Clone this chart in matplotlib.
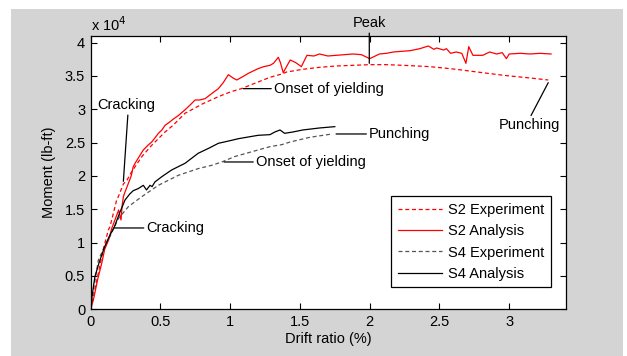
import matplotlib.pyplot as plt
from matplotlib.patches import Rectangle

plt.rcParams['font.family'] = ['Liberation Sans', 'DejaVu Sans']

# drift ratio (%) and moment (x 10^4 lb-ft)
s2_exp_x = [0, 0.03, 0.06, 0.09, 0.126, 0.138, 0.16, 0.186, 0.198, 0.234, 0.258, 0.29,
            0.318, 0.37, 0.437, 0.485, 0.533, 0.59, 0.676, 0.8, 0.915, 1.0, 1.08, 1.2,
            1.285, 1.37, 1.405, 1.52, 1.64, 1.76, 1.88, 2.0, 2.12, 2.24, 2.34, 2.43,
            2.53, 2.62, 2.77, 2.96, 3.15, 3.28]
s2_exp_y = [0, 0.3, 0.6, 0.9, 1.19, 1.24, 1.42, 1.64, 1.69, 1.88, 1.93, 2.05,
            2.14, 2.3, 2.46, 2.56, 2.66, 2.76, 2.94, 3.08, 3.19, 3.26, 3.31, 3.41,
            3.48, 3.53, 3.56, 3.60, 3.63, 3.65, 3.66, 3.67, 3.67, 3.66, 3.65, 3.64,
            3.62, 3.60, 3.56, 3.51, 3.47, 3.44]

s2_ana_x = [0, 0.02, 0.05, 0.08, 0.10, 0.13, 0.15, 0.17, 0.2, 0.21, 0.217, 0.225,
            0.234, 0.246, 0.27, 0.29, 0.305, 0.318, 0.35, 0.377, 0.41, 0.437, 0.46,
            0.485, 0.51, 0.533, 0.56, 0.59, 0.63, 0.68, 0.72, 0.748, 0.78, 0.82, 0.87,
            0.915, 0.95, 0.987, 1.02, 1.047, 1.09, 1.13, 1.2, 1.24, 1.285, 1.31, 1.345,
            1.36, 1.38, 1.43, 1.47, 1.51, 1.55, 1.6, 1.64, 1.7, 1.76, 1.82, 1.88, 1.94,
            2.0, 2.07, 2.12, 2.17, 2.23, 2.29, 2.36, 2.42, 2.46, 2.48, 2.53, 2.55, 2.58,
            2.62, 2.66, 2.69, 2.71, 2.74, 2.81, 2.86, 2.91, 2.95, 2.98, 3.0, 3.08, 3.15,
            3.22, 3.30]
s2_ana_y = [0, 0.15, 0.45, 0.7, 0.9, 1.05, 1.21, 1.32, 1.49, 1.40, 1.34, 1.55,
            1.69, 1.76, 1.89, 2.0, 2.14, 2.19, 2.3, 2.39, 2.46, 2.51, 2.57,
            2.64, 2.69, 2.76, 2.80, 2.85, 2.91, 3.0, 3.08, 3.14, 3.14, 3.16, 3.24,
            3.31, 3.40, 3.52, 3.47, 3.44, 3.49, 3.54, 3.61, 3.64, 3.66, 3.69, 3.78,
            3.70, 3.55, 3.74, 3.70, 3.64, 3.81, 3.80, 3.83, 3.80, 3.81, 3.82, 3.83, 3.82,
            3.76, 3.83, 3.84, 3.86, 3.87, 3.88, 3.91, 3.95, 3.90, 3.92, 3.89, 3.91, 3.84,
            3.86, 3.84, 3.69, 3.94, 3.81, 3.81, 3.86, 3.83, 3.85, 3.76, 3.83, 3.84, 3.83,
            3.84, 3.83]

s4_exp_x = [0, 0.02, 0.055, 0.09, 0.126, 0.198, 0.27, 0.366, 0.485, 0.628, 0.77,
            0.867, 0.94, 1.03, 1.2, 1.285, 1.37, 1.43, 1.57, 1.73]
s4_exp_y = [0, 0.3, 0.74, 0.9, 1.04, 1.36, 1.54, 1.69, 1.86, 2.01, 2.11,
            2.16, 2.21, 2.29, 2.39, 2.44, 2.47, 2.51, 2.58, 2.63]

s4_ana_x = [0, 0.01, 0.02, 0.03, 0.06, 0.1, 0.13, 0.17, 0.21, 0.246, 0.28, 0.305,
            0.34, 0.377, 0.40, 0.425, 0.44, 0.46, 0.51, 0.58, 0.676, 0.77, 0.85, 0.915,
            1.0, 1.06, 1.2, 1.285, 1.32, 1.357, 1.39, 1.45, 1.52, 1.64, 1.75]
s4_ana_y = [0, 0.2, 0.35, 0.49, 0.7, 0.94, 1.08, 1.24, 1.46, 1.64, 1.73, 1.78,
            1.81, 1.86, 1.79, 1.86, 1.84, 1.91, 1.99, 2.09, 2.19, 2.34, 2.42, 2.49,
            2.53, 2.56, 2.61, 2.62, 2.66, 2.69, 2.64, 2.66, 2.69, 2.72, 2.74]

x_ticks = [0, 0.5, 1, 1.5, 2, 2.5, 3]
y_ticks = [0, 0.5, 1, 1.5, 2, 2.5, 3, 3.5, 4]
y_ticklabels = ['0', '0.5', '1', '1.5', '2', '2.5', '3', '3.5', '4']

fig = plt.figure(figsize=(6.27, 3.56), dpi=100)
fig.patch.set_facecolor('white')
fig.patches.append(Rectangle((0.0175, 0), 0.976, 0.975, transform=fig.transFigure,
                             facecolor='#d4d4d4', edgecolor='none', zorder=-10))
ax = fig.add_axes([0.1447, 0.1312, 0.7575, 0.7677])

dash = (0, (3.2, 2.2))
ax.plot(s2_exp_x, s2_exp_y, color='red', lw=0.9, linestyle=dash, label='S2 Experiment')
ax.plot(s2_ana_x, s2_ana_y, color='red', lw=0.9, label='S2 Analysis')
ax.plot(s4_exp_x, s4_exp_y, color='#555555', lw=0.9, linestyle=dash, label='S4 Experiment')
ax.plot(s4_ana_x, s4_ana_y, color='black', lw=0.9, label='S4 Analysis')

ax.set_xlim(0, 3.405)
ax.set_ylim(0, 4.1)
ax.set_xticks(x_ticks)
ax.set_xticklabels([f'{t:g}' for t in x_ticks])
ax.set_yticks(y_ticks)
ax.set_yticklabels(y_ticklabels)
ax.tick_params(direction='in', length=4, width=0.8, top=True, right=True,
               labelsize=10.5, pad=4)
for s in ax.spines.values():
    s.set_linewidth(0.9)

ax.set_xlabel('Drift ratio (%)', fontsize=10.5, labelpad=2)
ax.set_ylabel('Moment (lb-ft)', fontsize=10.5, labelpad=6)
ax.text(0.0, 1.008, 'x 10$^4$', transform=ax.transAxes, fontsize=10.5, va='bottom')

fs = 10.5
line = dict(arrowstyle='-', color='black', lw=0.9, shrinkA=0, shrinkB=0)
ax.annotate('Cracking', xy=(0.234, 1.92), xytext=(0.255, 3.06), fontsize=fs,
            ha='center', va='center', arrowprops=dict(line, relpos=(0.53, 0)))
ax.annotate('Cracking', xy=(0.167, 1.22), xytext=(0.40, 1.22), fontsize=fs,
            ha='left', va='center', arrowprops=dict(line, relpos=(0, 0.5)))
ax.annotate('Onset of yielding', xy=(1.094, 3.31), xytext=(1.314, 3.31), fontsize=fs,
            ha='left', va='center', arrowprops=dict(line, relpos=(0, 0.5)))
ax.annotate('Onset of yielding', xy=(0.956, 2.21), xytext=(1.185, 2.21), fontsize=fs,
            ha='left', va='center', arrowprops=dict(line, relpos=(0, 0.5)))
ax.annotate('Punching', xy=(1.759, 2.63), xytext=(1.996, 2.63), fontsize=fs,
            ha='left', va='center', arrowprops=dict(line, relpos=(0, 0.5)))
ax.annotate('Punching', xy=(3.28, 3.40), xytext=(3.146, 2.76), fontsize=fs,
            ha='center', va='center', arrowprops=dict(line, relpos=(0.5, 1)))
ax.annotate('Peak', xy=(1.997, 3.69), xytext=(1.997, 4.29), fontsize=fs,
            ha='center', va='center', annotation_clip=False,
            arrowprops=dict(line, relpos=(0.5, 0)))

leg = ax.legend(loc='lower right', bbox_to_anchor=(0.969, 0.080), fontsize=fs,
                handlelength=3.0, labelspacing=0.5, borderpad=0.45,
                handletextpad=0.45, fancybox=False, framealpha=1, borderaxespad=0)
leg.get_frame().set_edgecolor('black')
leg.get_frame().set_linewidth(0.9)

fig.savefig('out.png', dpi=100)
